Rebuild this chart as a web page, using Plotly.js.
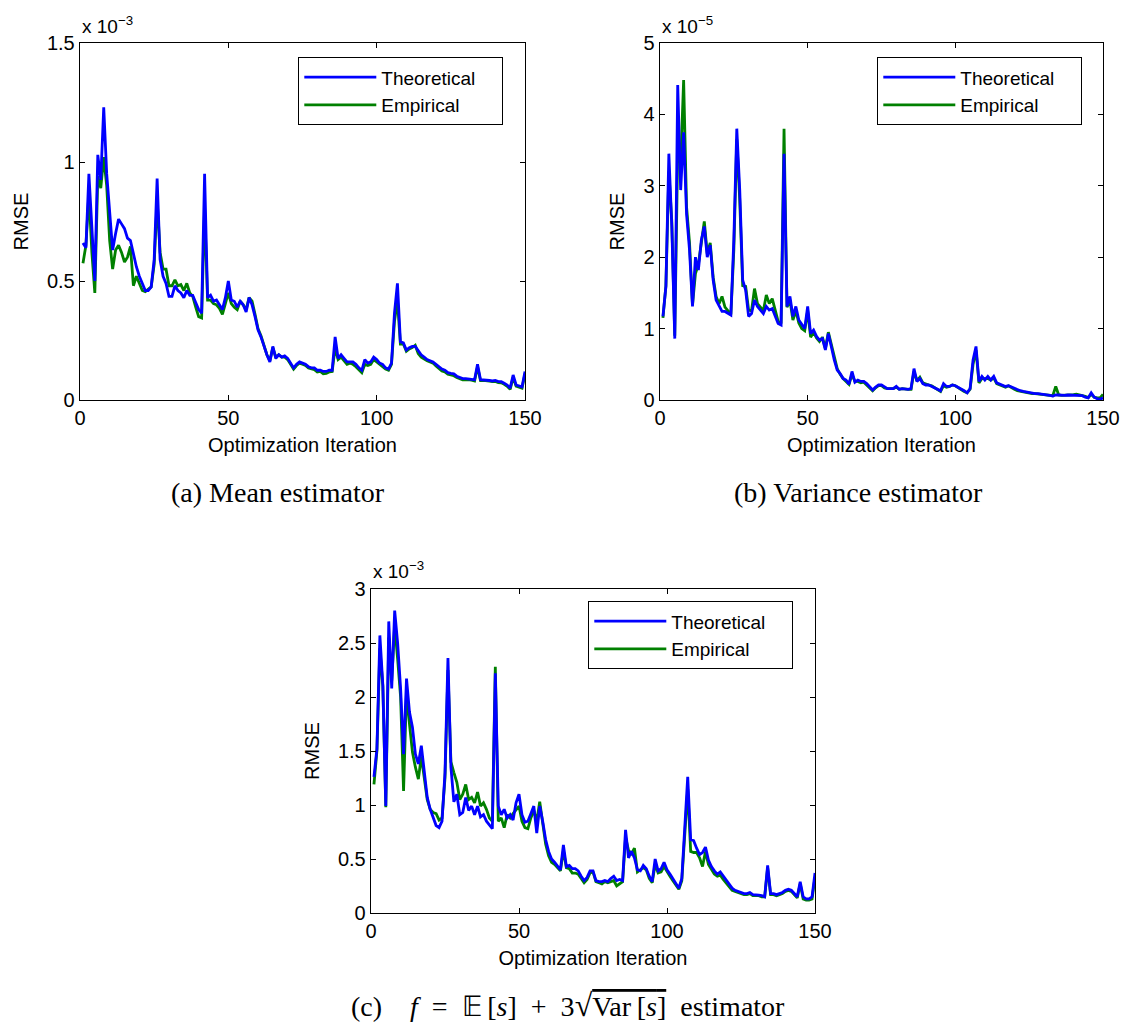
<!DOCTYPE html>
<html>
<head>
<meta charset="utf-8">
<script src="https://cdn.plot.ly/plotly-3.0.1.min.js"></script>
<style>html,body{margin:0;padding:0;background:#fff;}#chart{width:1127px;height:1028px;}</style>
</head>
<body>
<div id="chart"></div>
<script>
// Iterations 1..150 (x axis)
const iterations = Array.from({length: 150}, (_, i) => i + 1);

// (a) Mean estimator, RMSE in units of 1e-3
const meanTheoretical = [
0.66,0.64,0.95,0.70,0.50,1.03,0.925,1.23,0.95,0.79,
0.63,0.70,0.76,0.74,0.72,0.68,0.67,0.615,0.56,0.52,
0.49,0.46,0.46,0.475,0.59,0.93,0.59,0.52,0.49,0.435,
0.435,0.48,0.46,0.45,0.43,0.46,0.44,0.44,0.41,0.38,
0.365,0.95,0.43,0.44,0.415,0.42,0.40,0.38,0.43,0.50,
0.42,0.415,0.39,0.415,0.40,0.37,0.43,0.40,0.35,0.295,
0.265,0.225,0.19,0.16,0.225,0.175,0.19,0.18,0.185,0.175,
0.155,0.135,0.15,0.16,0.155,0.15,0.14,0.135,0.135,0.125,
0.125,0.12,0.12,0.125,0.125,0.265,0.175,0.19,0.175,0.16,
0.16,0.16,0.15,0.135,0.125,0.17,0.155,0.16,0.18,0.17,
0.155,0.15,0.135,0.13,0.155,0.365,0.49,0.245,0.24,0.21,
0.22,0.225,0.225,0.205,0.19,0.18,0.17,0.165,0.16,0.15,
0.14,0.13,0.125,0.115,0.112,0.11,0.10,0.095,0.09,0.09,
0.09,0.087,0.085,0.15,0.085,0.085,0.082,0.082,0.08,0.082,
0.077,0.077,0.07,0.063,0.05,0.105,0.063,0.06,0.055,0.12];
const meanEmpirical = [
0.575,0.65,0.87,0.62,0.45,0.94,0.89,1.02,0.90,0.67,
0.55,0.63,0.65,0.62,0.58,0.60,0.645,0.48,0.52,0.49,
0.46,0.455,0.465,0.475,0.57,0.84,0.62,0.55,0.55,0.48,
0.48,0.505,0.48,0.485,0.46,0.49,0.45,0.435,0.39,0.35,
0.345,0.81,0.42,0.42,0.405,0.40,0.385,0.36,0.405,0.45,
0.405,0.39,0.38,0.415,0.40,0.38,0.43,0.415,0.36,0.30,
0.27,0.225,0.19,0.165,0.22,0.18,0.19,0.18,0.18,0.17,
0.15,0.13,0.145,0.155,0.15,0.145,0.135,0.13,0.128,0.118,
0.12,0.11,0.112,0.118,0.12,0.22,0.17,0.18,0.165,0.15,
0.155,0.15,0.14,0.128,0.115,0.15,0.145,0.15,0.17,0.16,
0.148,0.14,0.13,0.125,0.15,0.33,0.42,0.235,0.235,0.205,
0.215,0.22,0.23,0.195,0.18,0.172,0.165,0.16,0.155,0.143,
0.133,0.122,0.118,0.108,0.105,0.102,0.095,0.09,0.085,0.085,
0.086,0.083,0.08,0.14,0.082,0.082,0.079,0.079,0.077,0.078,
0.073,0.072,0.066,0.058,0.045,0.095,0.058,0.055,0.05,0.11];

// (b) Variance estimator, RMSE in units of 1e-5
const varTheoretical = [
1.17,1.59,3.45,2.43,0.86,4.41,2.94,3.75,2.6,2.1,
1.31,2.0,1.82,2.24,2.43,2.0,2.17,1.68,1.4,1.31,
1.24,1.24,1.21,1.19,2.24,3.8,2.94,1.68,1.54,1.17,
1.21,1.4,1.31,1.26,1.21,1.31,1.26,1.28,1.17,1.07,
1.05,3.45,1.31,1.45,1.17,1.31,1.12,1.05,1.0,1.31,
0.93,0.98,0.89,0.84,0.86,0.7,0.93,0.75,0.56,0.42,
0.37,0.30,0.28,0.22,0.4,0.25,0.28,0.26,0.26,0.23,
0.19,0.14,0.18,0.21,0.21,0.18,0.16,0.16,0.16,0.19,
0.15,0.16,0.15,0.15,0.16,0.44,0.26,0.30,0.23,0.21,
0.21,0.19,0.16,0.15,0.13,0.23,0.19,0.19,0.21,0.20,
0.18,0.16,0.13,0.10,0.16,0.56,0.75,0.26,0.33,0.28,
0.33,0.28,0.33,0.24,0.22,0.20,0.19,0.20,0.18,0.16,
0.14,0.13,0.12,0.11,0.11,0.10,0.09,0.09,0.085,0.085,
0.075,0.065,0.056,0.07,0.07,0.065,0.065,0.07,0.07,0.07,
0.07,0.065,0.06,0.04,0.03,0.10,0.04,0.02,0.01,0.03];
const varEmpirical = [
1.15,1.6,3.2,2.5,0.9,3.5,3.3,4.48,2.7,2.2,
1.33,1.77,1.9,2.2,2.5,2.05,2.2,1.72,1.45,1.35,
1.45,1.3,1.25,1.2,2.1,3.65,2.8,1.6,1.59,1.26,
1.25,1.56,1.35,1.3,1.25,1.47,1.35,1.42,1.25,1.1,
1.07,3.8,1.3,1.4,1.12,1.25,1.08,1.0,0.97,1.25,
0.88,0.95,0.87,0.82,0.88,0.72,0.95,0.78,0.58,0.44,
0.36,0.3,0.26,0.22,0.36,0.26,0.26,0.24,0.25,0.21,
0.17,0.13,0.17,0.2,0.2,0.17,0.16,0.16,0.16,0.18,
0.15,0.16,0.15,0.15,0.15,0.4,0.27,0.32,0.24,0.22,
0.21,0.2,0.17,0.14,0.12,0.2,0.18,0.19,0.21,0.2,
0.17,0.15,0.12,0.10,0.15,0.5,0.7,0.24,0.3,0.3,
0.3,0.28,0.31,0.23,0.21,0.19,0.18,0.2,0.17,0.15,
0.13,0.12,0.11,0.1,0.1,0.09,0.09,0.085,0.08,0.08,
0.07,0.06,0.06,0.19,0.07,0.065,0.065,0.065,0.07,0.075,
0.08,0.075,0.06,0.05,0.035,0.08,0.04,0.03,0.03,0.08];

// (c) f = E[s] + 3 sqrt(Var[s]) estimator, RMSE in units of 1e-3
const fTheoretical = [
1.26,1.52,2.57,2.11,0.99,2.7,2.08,2.8,2.5,2.08,
1.47,2.17,1.86,1.72,1.47,1.38,1.55,1.30,1.07,0.96,
0.88,0.81,0.79,0.85,1.30,2.36,1.35,1.03,1.10,0.91,
0.93,1.07,0.95,0.99,0.91,0.99,0.89,0.91,0.85,0.81,
0.78,2.22,0.99,0.91,0.96,0.88,0.91,0.86,1.02,1.10,
0.91,0.84,0.85,0.92,0.99,0.74,0.99,0.85,0.68,0.57,
0.50,0.47,0.44,0.40,0.63,0.43,0.44,0.41,0.41,0.39,
0.34,0.30,0.33,0.39,0.39,0.30,0.29,0.29,0.30,0.29,
0.32,0.34,0.30,0.31,0.30,0.77,0.51,0.57,0.51,0.40,
0.39,0.44,0.41,0.34,0.29,0.50,0.39,0.41,0.47,0.40,
0.36,0.32,0.27,0.23,0.32,0.79,1.26,0.68,0.67,0.60,
0.54,0.56,0.61,0.49,0.43,0.39,0.36,0.38,0.34,0.30,
0.26,0.23,0.21,0.20,0.19,0.18,0.18,0.19,0.17,0.17,
0.165,0.16,0.15,0.44,0.18,0.18,0.17,0.18,0.19,0.21,
0.22,0.21,0.18,0.15,0.29,0.15,0.13,0.13,0.15,0.37];
const fEmpirical = [
1.19,1.5,2.45,2.1,0.98,2.55,2.15,2.67,2.35,2.0,
1.13,2.05,1.75,1.49,1.35,1.24,1.45,1.25,1.05,0.96,
0.93,0.92,0.86,0.88,1.25,2.25,1.4,1.30,1.21,1.05,
1.10,1.19,1.05,1.07,1.02,1.12,0.99,1.02,0.96,0.88,
0.85,2.28,0.85,0.88,0.79,0.91,0.88,0.92,0.96,0.99,
0.85,0.79,0.78,0.88,0.95,0.85,1.03,0.82,0.64,0.53,
0.47,0.45,0.42,0.39,0.58,0.42,0.41,0.37,0.37,0.36,
0.32,0.28,0.31,0.37,0.38,0.29,0.28,0.27,0.29,0.28,
0.29,0.30,0.25,0.27,0.29,0.70,0.58,0.55,0.60,0.38,
0.40,0.42,0.40,0.32,0.28,0.45,0.37,0.38,0.43,0.38,
0.34,0.30,0.26,0.22,0.30,0.70,1.15,0.57,0.56,0.56,
0.51,0.43,0.57,0.45,0.40,0.36,0.34,0.35,0.31,0.28,
0.24,0.21,0.20,0.19,0.18,0.17,0.17,0.18,0.16,0.16,
0.16,0.15,0.15,0.42,0.17,0.17,0.16,0.17,0.18,0.20,
0.21,0.20,0.17,0.14,0.27,0.13,0.12,0.12,0.13,0.33];

const xTicks = [0, 50, 100, 150];
const yTicksA = [0, 0.5, 1, 1.5];
const yTicksB = [0, 1, 2, 3, 4, 5];
const yTicksC = [0, 0.5, 1, 1.5, 2, 2.5, 3];
const seriesNames = ['Theoretical', 'Empirical'];
const captions = ['(a) Mean estimator', '(b) Variance estimator'];

const BLUE = '#0000ff', GREEN = '#008000';
const SANS = 'Liberation Sans, Arial, Helvetica, sans-serif';
const SERIF = 'Liberation Serif, Times New Roman, serif';
const PAD = '\u00a0\u00a0\u00a0\u00a0';

function pair(xa, ya, leg, theo, emp) {
  return [
    {x: iterations, y: emp, xaxis: xa, yaxis: ya, type: 'scatter', mode: 'lines',
     name: seriesNames[1] + PAD, legend: leg, legendrank: 2, line: {color: GREEN, width: 2.8}},
    {x: iterations, y: theo, xaxis: xa, yaxis: ya, type: 'scatter', mode: 'lines',
     name: seriesNames[0] + PAD, legend: leg, legendrank: 1, line: {color: BLUE, width: 2.8}}
  ];
}

const data = [].concat(
  pair('x', 'y', 'legend', meanTheoretical, meanEmpirical),
  pair('x2', 'y2', 'legend2', varTheoretical, varEmpirical),
  pair('x3', 'y3', 'legend3', fTheoretical, fEmpirical)
);

const W = 1127, H = 1028;
function xd(a, b) { return [a / W, b / W]; }
function yd(top, bot) { return [1 - bot / H, 1 - top / H]; }

function xaxis(dom, anchor) {
  return {domain: dom, anchor: anchor, range: [0, 150], tickvals: xTicks, ticktext: xTicks.map(String),
    ticks: 'inside', ticklen: 5, tickcolor: '#000', showline: true, linecolor: '#000', linewidth: 1.3,
    mirror: 'allticks', showgrid: false, zeroline: false,
    tickfont: {family: SANS, size: 20, color: '#000'},
    title: {text: 'Optimization Iteration', font: {family: SANS, size: 20, color: '#000'}, standoff: 9}};
}
function yaxis(dom, anchor, rng, ticks) {
  return {domain: dom, anchor: anchor, range: rng, tickvals: ticks, ticktext: ticks.map(String),
    ticks: 'inside', ticklen: 5, tickcolor: '#000', showline: true, linecolor: '#000', linewidth: 1.3,
    mirror: 'allticks', showgrid: false, zeroline: false,
    tickfont: {family: SANS, size: 20, color: '#000'},
    title: {text: 'RMSE', font: {family: SANS, size: 20, color: '#000'}, standoff: 13}};
}
function legend(x, y) {
  return {x: x, y: y, xanchor: 'left', yanchor: 'top', bgcolor: '#fff', bordercolor: '#000', borderwidth: 1.3,
    font: {family: SANS, size: 19, color: '#000'}, itemwidth: 72, tracegroupgap: 0};
}

const layout = {
  width: W, height: H, margin: {l: 0, r: 0, t: 0, b: 0}, paper_bgcolor: '#fff', plot_bgcolor: '#fff',
  showlegend: true,
  xaxis: xaxis(xd(80, 525), 'y'),
  yaxis: yaxis(yd(43, 400), 'x', [0, 1.5], yTicksA),
  xaxis2: xaxis(xd(660, 1103), 'y2'),
  yaxis2: yaxis(yd(43, 400), 'x2', [0, 5], yTicksB),
  xaxis3: xaxis(xd(371, 815), 'y3'),
  yaxis3: yaxis(yd(589, 913), 'x3', [0, 3], yTicksC),
  legend: legend(298 / W, 1 - 57 / H),
  legend2: legend(877 / W, 1 - 57 / H),
  legend3: legend(588 / W, 1 - 601 / H),
  annotations: [
    {xref: 'paper', yref: 'paper', x: 80 / W, y: 1 - 25 / H, xanchor: 'left', yanchor: 'middle', showarrow: false,
     text: 'x 10<sup>\u22123</sup>', font: {family: SANS, size: 19, color: '#000'}},
    {xref: 'paper', yref: 'paper', x: 660 / W, y: 1 - 25 / H, xanchor: 'left', yanchor: 'middle', showarrow: false,
     text: 'x 10<sup>\u22125</sup>', font: {family: SANS, size: 19, color: '#000'}},
    {xref: 'paper', yref: 'paper', x: 371 / W, y: 1 - 570 / H, xanchor: 'left', yanchor: 'middle', showarrow: false,
     text: 'x 10<sup>\u22123</sup>', font: {family: SANS, size: 19, color: '#000'}},
    {xref: 'paper', yref: 'paper', x: 278 / W, y: 1 - 492 / H, xanchor: 'center', yanchor: 'middle', showarrow: false,
     text: captions[0], font: {family: SERIF, size: 28, color: '#000'}},
    {xref: 'paper', yref: 'paper', x: 858 / W, y: 1 - 492 / H, xanchor: 'center', yanchor: 'middle', showarrow: false,
     text: captions[1], font: {family: SERIF, size: 28, color: '#000'}},
    {xref: 'paper', yref: 'paper', x: 568 / W, y: 1 - 1005 / H, xanchor: 'center', yanchor: 'middle', showarrow: false,
     text: '(c)\u2003<i>f</i>\u2002=\u2002\uD835\uDD3C\u2009[<i>s</i>]\u2002+\u20023<span style="font-size:32px">\u221A</span><span style="text-decoration:overline">Var\u2009[<i>s</i>]</span>\u2002estimator',
     font: {family: SERIF, size: 28, color: '#000'}}
  ]
};

Plotly.newPlot('chart', data, layout, {displayModeBar: false, staticPlot: true});
</script>
</body>
</html>
